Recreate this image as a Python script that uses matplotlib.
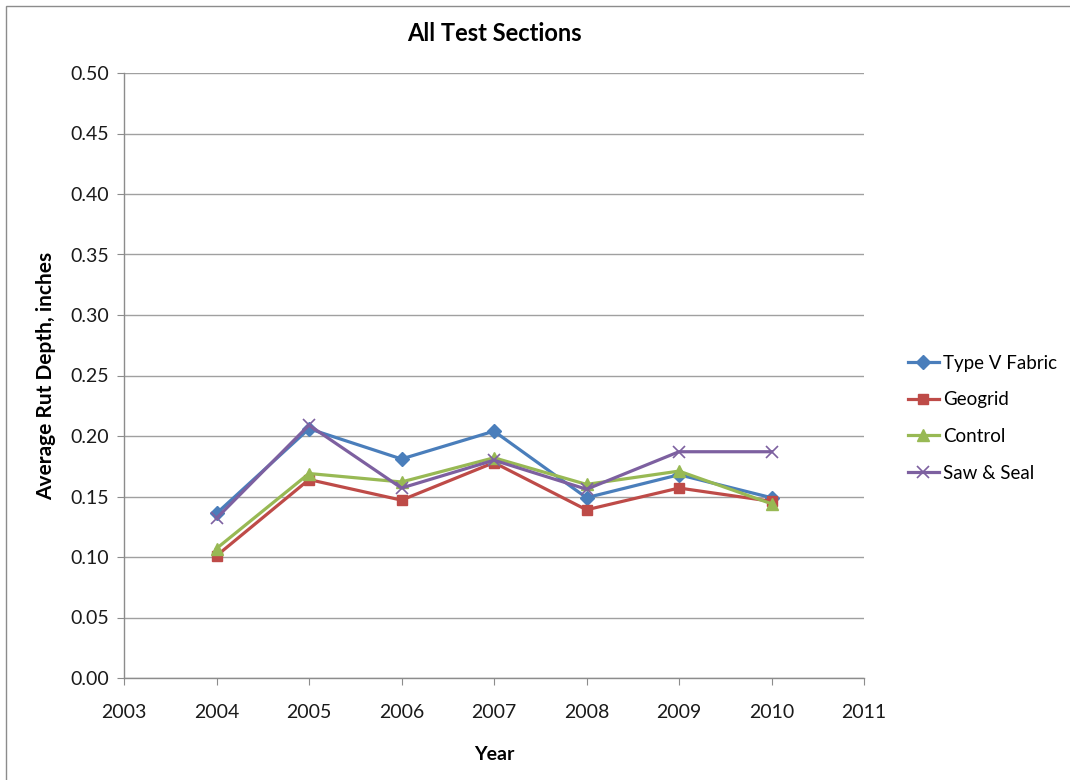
import matplotlib
matplotlib.use("Agg")
import matplotlib.pyplot as plt
from matplotlib.patches import Rectangle

plt.rcParams['font.family'] = ['Lato', 'DejaVu Sans']

years = [2004, 2005, 2006, 2007, 2008, 2009, 2010]
type_v_fabric = [0.136, 0.206, 0.181, 0.204, 0.149, 0.168, 0.149]
geogrid = [0.101, 0.164, 0.147, 0.178, 0.139, 0.157, 0.146]
control = [0.107, 0.169, 0.162, 0.182, 0.160, 0.171, 0.144]
saw_seal = [0.132, 0.209, 0.157, 0.180, 0.156, 0.187, 0.187]

series = [
    ("Type V Fabric", type_v_fabric, "#4A7EBB", "D", 7),
    ("Geogrid", geogrid, "#BE4B48", "s", 7.5),
    ("Control", control, "#98B954", "^", 8),
    ("Saw & Seal", saw_seal, "#7D60A0", "x", 9),
]

xticks = list(range(2003, 2012))
yticks = [i * 0.05 for i in range(11)]

fig = plt.figure(figsize=(10.7, 7.8), dpi=100)
ax = fig.add_axes([124/1070, 1 - 678/780, 740/1070, 605/780])

for name, vals, col, mk, ms in series:
    kw = dict(markeredgewidth=1.0)
    if mk == "x":
        kw = dict(markeredgewidth=1.2)
    ax.plot(years, vals, color=col, lw=2.3, marker=mk, markersize=ms,
            markerfacecolor=col, markeredgecolor=col, label=name, **kw)

ax.set_xlim(2003, 2011)
ax.set_ylim(0, 0.5)
ax.set_xticks(xticks)
ax.set_xticklabels([str(x) for x in xticks])
ax.set_yticks(yticks)
ax.set_yticklabels([f"{y:.2f}" for y in yticks])
ax.yaxis.grid(True, color="#A0A0A0", lw=1.0)
ax.set_axisbelow(True)
for s in ["top", "right"]:
    ax.spines[s].set_visible(False)
for s in ["left", "bottom"]:
    ax.spines[s].set_color("#8C8C8C")
    ax.spines[s].set_linewidth(1.0)
ax.tick_params(axis="both", direction="out", length=5, color="#8C8C8C",
               labelsize=14, labelcolor="#1a1a1a", pad=6)
ax.tick_params(axis="x", pad=14)

ax.set_title("All Test Sections", fontsize=17, fontweight="bold", pad=23)
ax.set_xlabel("Year", fontsize=14, fontweight="bold", labelpad=18)
ax.set_ylabel("Average Rut Depth, inches", fontsize=15, fontweight="bold", labelpad=10)

fig.legend(loc="upper left", bbox_to_anchor=(900/1070, 1 - 347/780),
           frameon=False, fontsize=13.5, handlelength=1.7, handletextpad=0.2,
           labelspacing=1.05, borderaxespad=0)

fig.patches.append(Rectangle((6/1070, -0.1), 1.2, 1 - 6/780 + 0.1,
                             transform=fig.transFigure, fill=False,
                             edgecolor="#8C8C8C", lw=1.0))

fig.savefig("out.png", dpi=100)
